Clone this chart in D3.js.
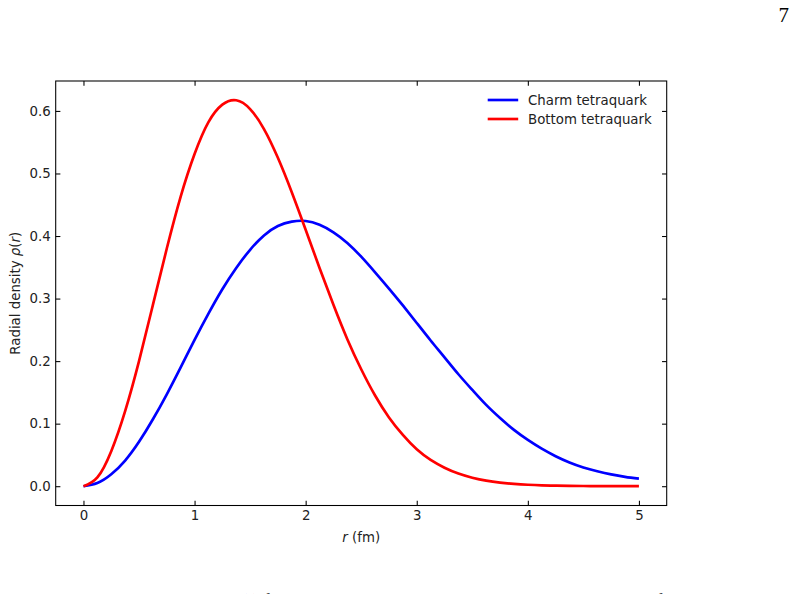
<!DOCTYPE html>
<html>
<head>
<meta charset="utf-8">
<script src="https://cdn.jsdelivr.net/npm/d3@7"></script>
<style>
  body { margin: 0; background: #fff; }
  svg { display: block; }
</style>
</head>
<body>
<div id="myChart"></div>
<script>
// Size of the page picture
const w = 796;
const h = 594;

// Plot box (matplotlib axes) in page pixels
const margin = {top: 81, left: 55.7, bottom: 88.5, right: 129.3};
const innerWidth = w - margin.left - margin.right;
const innerHeight = h - margin.top - margin.bottom;

// Data (r in fm)
const rValues = [0, 0.125, 0.25, 0.375, 0.5, 0.625, 0.75, 0.875, 1, 1.125, 1.25,
                 1.375, 1.5, 1.625, 1.75, 1.875, 2, 2.125, 2.25, 2.375, 2.5,
                 2.625, 2.75, 2.875, 3, 3.125, 3.25, 3.375, 3.5, 3.625, 3.75,
                 3.875, 4, 4.125, 4.25, 4.375, 4.5, 4.625, 4.75, 4.875, 5];
const charm = [0, 0.005, 0.019, 0.041, 0.071, 0.107, 0.147, 0.190, 0.234, 0.276, 0.315,
               0.349, 0.378, 0.401, 0.416, 0.423, 0.424, 0.418, 0.406, 0.389, 0.367,
               0.342, 0.316, 0.289, 0.261, 0.233, 0.206, 0.179, 0.154, 0.130, 0.109,
               0.090, 0.074, 0.060, 0.048, 0.038, 0.030, 0.024, 0.019, 0.015, 0.012];
const bottom = [0, 0.014, 0.056, 0.120, 0.200, 0.290, 0.380, 0.463, 0.531, 0.582, 0.610,
                0.617, 0.603, 0.571, 0.525, 0.470, 0.410, 0.349, 0.290, 0.235, 0.187,
                0.145, 0.110, 0.082, 0.059, 0.042, 0.0296, 0.0202, 0.0136, 0.0089, 0.0058,
                0.0037, 0.0023, 0.0014, 0.0009, 0.0005, 0.0003, 0.0002, 0.0001, 0.0001, 0];
const seriesNames = ["Charm tetraquark", "Bottom tetraquark"];
const seriesColors = ["#0000ff", "#ff0000"];
const xTicks = [0, 1, 2, 3, 4, 5];
const yTicks = [0.0, 0.1, 0.2, 0.3, 0.4, 0.5, 0.6];

const series = [
  {name: seriesNames[0], color: seriesColors[0], values: charm},
  {name: seriesNames[1], color: seriesColors[1], values: bottom}
];

const font = "'DejaVu Sans', sans-serif";
const fs = 13.33;
const tick = 4.67;

const svg = d3.select("#myChart")
  .append("svg")
    .attr("width", w)
    .attr("height", h)
    .attr("viewBox", [0, 0, w, h]);

const mainG = svg.append("g")
  .attr("transform", `translate(${margin.left}, ${margin.top})`);

// Scales with matplotlib's 5% margins
const xMin = d3.min(rValues), xMax = d3.max(rValues);
const xPad = (xMax - xMin) * 0.05;
const xScale = d3.scaleLinear()
  .domain([xMin - xPad, xMax + xPad])
  .range([0, innerWidth]);

const yMax = d3.max([...charm, ...bottom]);
const yPad = yMax * 0.05;
const yScale = d3.scaleLinear()
  .domain([-yPad, yMax + yPad])
  .range([innerHeight, 0]);

// Axes, ticks pointing inward on all four sides
function styleAxis(g) {
  g.select(".domain").remove();
  g.selectAll(".tick line").attr("stroke", "#000").attr("stroke-width", 1.07);
  g.selectAll(".tick text")
    .attr("fill", "#222")
    .style("font-family", font)
    .style("font-size", fs + "px");
}

mainG.append("g")
  .attr("transform", `translate(0,${innerHeight})`)
  .call(d3.axisBottom(xScale).tickValues(xTicks).tickFormat(d3.format("d"))
    .tickSizeInner(-tick).tickSizeOuter(0).tickPadding(5.5))
  .call(styleAxis);

mainG.append("g")
  .call(d3.axisTop(xScale).tickValues(xTicks).tickFormat("")
    .tickSizeInner(-tick).tickSizeOuter(0))
  .call(styleAxis);

mainG.append("g")
  .call(d3.axisLeft(yScale).tickValues(yTicks).tickFormat(d3.format(".1f"))
    .tickSizeInner(-tick).tickSizeOuter(0).tickPadding(5))
  .call(styleAxis);

mainG.append("g")
  .attr("transform", `translate(${innerWidth},0)`)
  .call(d3.axisRight(yScale).tickValues(yTicks).tickFormat("")
    .tickSizeInner(-tick).tickSizeOuter(0))
  .call(styleAxis);

// Curves
const line = d3.line()
  .x((d, i) => xScale(rValues[i]))
  .y(d => yScale(d))
  .curve(d3.curveNatural);

mainG.selectAll("path.curve")
  .data(series)
  .enter()
  .append("path")
    .attr("class", "curve")
    .attr("fill", "none")
    .attr("stroke", d => d.color)
    .attr("stroke-width", 2.67)
    .attr("stroke-linejoin", "round")
    .attr("stroke-linecap", "butt")
    .attr("d", d => line(d.values));

// Frame
mainG.append("rect")
  .attr("x", 0).attr("y", 0)
  .attr("width", innerWidth).attr("height", innerHeight)
  .attr("fill", "none")
  .attr("stroke", "#000")
  .attr("stroke-width", 1.07);

// Legend (no frame)
const legend = mainG.append("g")
  .attr("transform", `translate(${innerWidth - 179}, 19)`);

const items = legend.selectAll("g")
  .data(series)
  .enter()
  .append("g")
    .attr("transform", (d, i) => `translate(0, ${i * 19})`);

items.append("line")
  .attr("x1", 0).attr("x2", 30.5)
  .attr("y1", 0).attr("y2", 0)
  .attr("stroke", d => d.color)
  .attr("stroke-width", 2.67);

items.append("text")
  .attr("x", 40.3)
  .attr("y", 0)
  .attr("dy", "0.36em")
  .attr("fill", "#222")
  .style("font-family", font)
  .style("font-size", fs + "px")
  .text(d => d.name);

// Axis labels
const xLabel = mainG.append("text")
  .attr("x", innerWidth / 2)
  .attr("y", innerHeight + 36)
  .attr("text-anchor", "middle")
  .attr("fill", "#222")
  .style("font-family", font)
  .style("font-size", fs + "px");
xLabel.append("tspan").style("font-style", "italic").text("r");
xLabel.append("tspan").text(" (fm)");

const yLabel = svg.append("text")
  .attr("transform", `translate(19.5, ${margin.top + innerHeight / 2}) rotate(-90)`)
  .attr("text-anchor", "middle")
  .attr("fill", "#222")
  .style("font-family", font)
  .style("font-size", fs + "px");
yLabel.append("tspan").text("Radial density ");
yLabel.append("tspan").style("font-style", "italic").text("ρ");
yLabel.append("tspan").text("(");
yLabel.append("tspan").style("font-style", "italic").text("r");
yLabel.append("tspan").text(")");

// Page number and the very top of the caption line below the figure
svg.append("text")
  .attr("x", 789)
  .attr("y", 22)
  .attr("text-anchor", "end")
  .style("font-family", "'Liberation Serif', 'DejaVu Serif', serif")
  .style("font-size", "21px")
  .text("7");

svg.append("text")
  .attr("x", 4)
  .attr("y", 606.8)
  .style("font-family", "'Liberation Serif', 'DejaVu Serif', serif")
  .style("font-size", "18px")
  .text("ited radial probability densities ρ(r) for the charm and bottom tetraquark systems obtained from the");
</script>
</body>
</html>
